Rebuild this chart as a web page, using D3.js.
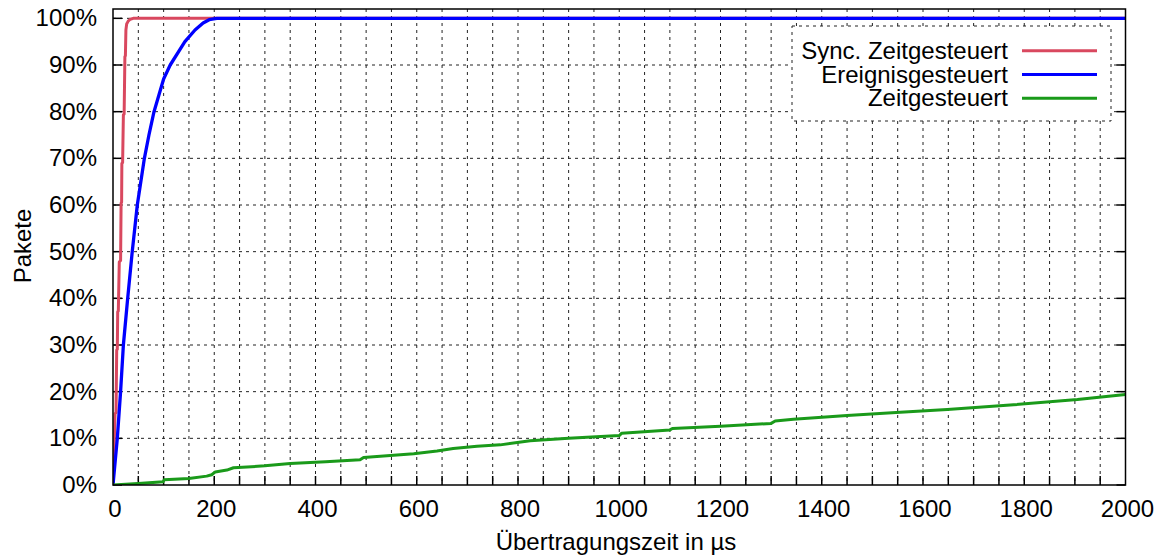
<!DOCTYPE html>
<html>
<head>
<meta charset="utf-8">
<script src="https://cdn.jsdelivr.net/npm/d3@7"></script>
<style>
  body { margin: 0; background: #fff; }
  text { font-family: "Liberation Sans", Arial, sans-serif; font-size: 24px; fill: #000; }
</style>
</head>
<body>
<svg id="chart" width="1158" height="559"></svg>
<script>
// cumulative share of packets over transmission time (us)
var seriesNames = ['Sync. Zeitgesteuert', 'Ereignisgesteuert', 'Zeitgesteuert']
var seriesColors = ['#d9485f', '#0000ff', '#1a9a1a']

var syncData = [[0, 0], [4, 0.153], [6, 0.155], [7.3, 0.289], [8.5, 0.291], [9.3, 0.371], [10.5, 0.373],
  [12.4, 0.478], [15, 0.481], [16, 0.604], [17, 0.606], [17.5, 0.689], [19, 0.691], [20.5, 0.793],
  [22, 0.795], [23.5, 0.918], [24.5, 0.92], [25.5, 0.975], [27, 0.988], [30, 0.994], [34, 0.998],
  [40, 1], [2000, 1]]

var eventData = [[0, 0], [8.5, 0.1], [15, 0.2], [20.5, 0.3], [29, 0.4], [38, 0.5], [48, 0.6], [62, 0.7],
  [71, 0.75], [81, 0.8], [100, 0.87], [113, 0.9], [142, 0.95], [162, 0.975], [178, 0.99], [190, 0.997],
  [205, 1], [2000, 1]]

var timeData = [[0, 0], [50, 0.003], [99, 0.007], [101, 0.011], [150, 0.014], [185, 0.019], [195, 0.022],
  [202, 0.028], [225, 0.032], [238, 0.037], [300, 0.041], [350, 0.046], [420, 0.05], [488, 0.054],
  [495, 0.059], [594, 0.067], [640, 0.073], [672, 0.078], [719, 0.083], [765, 0.086], [824, 0.095],
  [900, 0.1], [1000, 0.106], [1005, 0.111], [1100, 0.118], [1105, 0.121], [1200, 0.126], [1300, 0.132],
  [1308, 0.137], [1344, 0.141], [1450, 0.149], [1555, 0.156], [1648, 0.162], [1779, 0.172],
  [1905, 0.183], [2000, 0.194]]

var xTickValues = [0, 200, 400, 600, 800, 1000, 1200, 1400, 1600, 1800, 2000]
var xGridStep = 50
var yTickValues = [0, 0.1, 0.2, 0.3, 0.4, 0.5, 0.6, 0.7, 0.8, 0.9, 1.0]

var svg = d3.select('#chart')

var plotLeft = 113, plotRight = 1125.5, plotTop = 9, plotBottom = 485

var x = d3.scaleLinear().domain([0, 2000]).range([plotLeft, plotRight])
var y = d3.scaleLinear().domain([0, 1.02]).range([plotBottom, plotTop])

svg.append('defs').append('clipPath').attr('id', 'plotClip')
  .append('rect')
  .attr('x', plotLeft).attr('y', plotTop)
  .attr('width', plotRight - plotLeft).attr('height', plotBottom - plotTop)

// grid
var grid = svg.append('g')
var xGrid = d3.range(xGridStep, 2000, xGridStep)
grid.selectAll('.vg').data(xGrid).enter().append('line')
  .attr('x1', d => x(d)).attr('x2', d => x(d))
  .attr('y1', plotTop).attr('y2', plotBottom)
  .attr('stroke', '#222').attr('stroke-width', 1).attr('stroke-dasharray', '3,4')
grid.selectAll('.hg').data(yTickValues.slice(1)).enter().append('line')
  .attr('x1', plotLeft).attr('x2', plotRight)
  .attr('y1', d => y(d)).attr('y2', d => y(d))
  .attr('stroke', '#222').attr('stroke-width', 1).attr('stroke-dasharray', '3,4')

// ticks (inward, y mirrored on the right)
var ticks = svg.append('g').attr('stroke', '#000').attr('stroke-width', 1.5)
ticks.selectAll('.xt').data(xGrid).enter().append('line')
  .attr('x1', d => x(d)).attr('x2', d => x(d))
  .attr('y1', plotBottom).attr('y2', plotBottom - 9)
ticks.selectAll('.ytl').data(yTickValues).enter().append('line')
  .attr('x1', plotLeft).attr('x2', plotLeft + 9)
  .attr('y1', d => y(d)).attr('y2', d => y(d))
ticks.selectAll('.ytr').data(yTickValues).enter().append('line')
  .attr('x1', plotRight).attr('x2', plotRight - 9)
  .attr('y1', d => y(d)).attr('y2', d => y(d))

// lines
var line = d3.line().x(d => x(d[0])).y(d => y(d[1]))
var plot = svg.append('g').attr('clip-path', 'url(#plotClip)')
var allData = [syncData, eventData, timeData]
allData.forEach(function (data, i) {
  plot.append('path')
    .datum(data)
    .attr('d', line)
    .attr('fill', 'none')
    .attr('stroke', seriesColors[i])
    .attr('stroke-width', i == 1 ? 3.3 : 3)
    .attr('stroke-linejoin', 'round')
})

// frame
svg.append('rect')
  .attr('x', plotLeft).attr('y', plotTop)
  .attr('width', plotRight - plotLeft).attr('height', plotBottom - plotTop)
  .attr('fill', 'none').attr('stroke', '#000').attr('stroke-width', 1.5)

// tick labels
svg.append('g').selectAll('text').data(xTickValues).enter().append('text')
  .attr('x', d => x(d) + 2).attr('y', 517)
  .attr('text-anchor', 'middle')
  .text(d => d)
svg.append('g').selectAll('text').data(yTickValues).enter().append('text')
  .attr('x', 97).attr('y', d => y(d) + 8)
  .attr('text-anchor', 'end')
  .text(d => Math.round(d * 100) + '%')

// axis titles
svg.append('text')
  .attr('x', 616).attr('y', 550)
  .attr('text-anchor', 'middle')
  .text('Übertragungszeit in µs')
svg.append('text')
  .attr('transform', 'translate(31,246) rotate(-90)')
  .attr('text-anchor', 'middle')
  .text('Pakete')

// legend
var legend = svg.append('g')
legend.append('rect')
  .attr('x', 792).attr('y', 26).attr('width', 319).attr('height', 95)
  .attr('fill', '#fff').attr('stroke', '#222').attr('stroke-width', 1)
  .attr('stroke-dasharray', '3,4')
seriesNames.forEach(function (name, i) {
  var ly = 50.7 + i * 23.8
  legend.append('text')
    .attr('x', 1008).attr('y', ly + 8)
    .attr('text-anchor', 'end')
    .text(name)
  legend.append('line')
    .attr('x1', 1022).attr('x2', 1097)
    .attr('y1', ly).attr('y2', ly)
    .attr('stroke', seriesColors[i]).attr('stroke-width', 3)
})
</script>
</body>
</html>
